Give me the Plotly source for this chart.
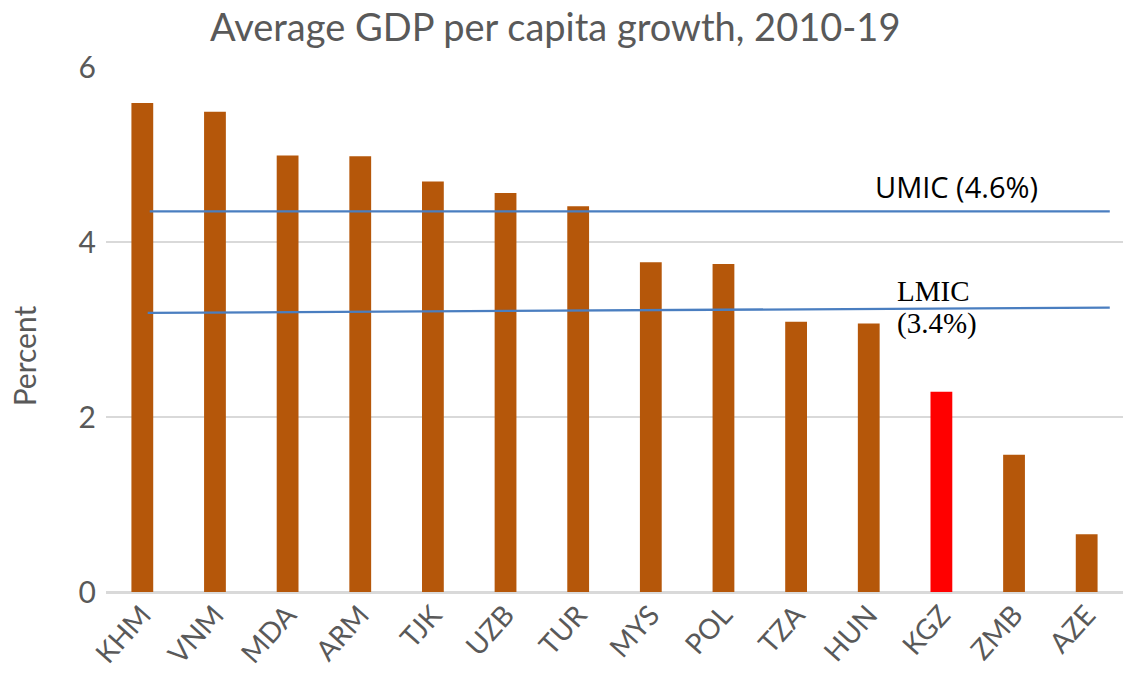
import plotly.graph_objects as go

# Average GDP per capita growth by country, 2010-19 (percent)
countries = ["KHM", "VNM", "MDA", "ARM", "TJK", "UZB", "TUR",
             "MYS", "POL", "TZA", "HUN", "KGZ", "ZMB", "AZE"]
growth = [5.59, 5.49, 4.99, 4.98, 4.69, 4.56, 4.41,
          3.77, 3.75, 3.09, 3.07, 2.29, 1.57, 0.66]
highlight = "KGZ"

# Reference lines for income groups (start / end levels as drawn)
umic_line = [4.35, 4.35]
lmic_line = [3.19, 3.25]
umic_label = "UMIC (4.6%)"
lmic_label_top = "LMIC"
lmic_label_bottom = "(3.4%)"

y_ticks = [0, 2, 4, 6]

bar_colors = ["#FF0000" if c == highlight else "#B5570A" for c in countries]

fig = go.Figure(
    go.Bar(
        x=countries,
        y=growth,
        marker=dict(color=bar_colors, line=dict(width=0)),
        hoverinfo="x+y",
    )
)

grey = "#595959"

fig.update_layout(
    width=1123,
    height=674,
    margin=dict(l=106, r=0, t=67, b=82, autoexpand=False),
    paper_bgcolor="white",
    plot_bgcolor="white",
    bargap=0.70,
    showlegend=False,
    xaxis=dict(
        type="category",
        range=[-0.5, len(countries) - 0.5],
        tickangle=-48,
        tickfont=dict(family="Lato", size=28, color=grey),
        showgrid=False,
        showline=False,
        ticks="",
        automargin=False,
    ),
    yaxis=dict(
        range=[0, 6],
        tickvals=y_ticks,
        tickfont=dict(family="Lato", size=30, color=grey),
        showgrid=True,
        gridcolor="#D9D9D9",
        gridwidth=1.5,
        zeroline=True,
        zerolinecolor="#D9D9D9",
        zerolinewidth=2.5,
        ticks="",
        ticklabelstandoff=9,
        automargin=False,
    ),
)

# Chart title as free text above the plot area
fig.add_annotation(text="Average GDP per capita growth, 2010-19",
                   xref="paper", yref="paper", x=0.4415, y=1.078,
                   xanchor="center", yanchor="middle", showarrow=False,
                   font=dict(family="Lato", size=38, color=grey))

# Axis title placed as free text beside the value axis
fig.add_annotation(text="Percent", xref="paper", yref="paper",
                   x=-0.081, y=0.45, xanchor="center", yanchor="middle",
                   textangle=-90, showarrow=False,
                   font=dict(family="Lato", size=30, color=grey))

line_style = dict(color="#4A7EC0", width=2.3)
fig.add_shape(type="line", xref="paper", yref="y",
              x0=0.043, x1=0.987, y0=umic_line[0], y1=umic_line[1], line=line_style)
fig.add_shape(type="line", xref="paper", yref="y",
              x0=0.041, x1=0.987, y0=lmic_line[0], y1=lmic_line[1], line=line_style)

fig.add_annotation(text=umic_label, xref="paper", yref="y",
                   x=0.836, y=4.63, xanchor="center", yanchor="middle",
                   showarrow=False,
                   font=dict(family="Open Sans", size=29, color="black"))
fig.add_annotation(text=lmic_label_top, xref="paper", yref="y",
                   x=0.776, y=3.44, xanchor="left", yanchor="middle",
                   showarrow=False,
                   font=dict(family="Liberation Serif", size=29, color="black"))
fig.add_annotation(text=lmic_label_bottom, xref="paper", yref="y",
                   x=0.776, y=3.07, xanchor="left", yanchor="middle",
                   showarrow=False,
                   font=dict(family="Liberation Serif", size=29, color="black"))

fig.write_html("out.html")
